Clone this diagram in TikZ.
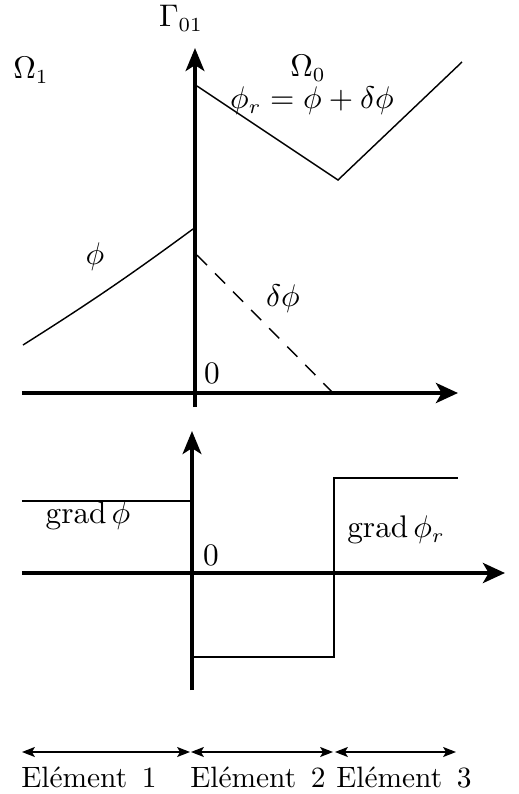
\documentclass[tikz,border=0pt]{standalone}
\usetikzlibrary{arrows.meta}
\begin{document}
\begin{tikzpicture}[x=0.35pt,y=-0.35pt,
  axis/.style={line width=1.6pt,-{Stealth[length=7.7pt,width=7pt,inset=2pt]}},
  axisv/.style={line width=1.6pt,-{Stealth[length=8pt,width=6.5pt,inset=2pt]}},
  curve/.style={line width=0.5pt},
  dimarrow/.style={line width=0.45pt,{Stealth[length=4.5pt,width=3.5pt,inset=1pt]}-{Stealth[length=4.5pt,width=3.5pt,inset=1pt]}},
  lbl/.style={inner sep=0pt,font=\fontsize{10.5}{12}\selectfont},
  elbl/.style={inner sep=0pt,anchor=base,font=\fontsize{10.3}{12}\selectfont}]
\useasboundingbox (0,0) rectangle (518,794);
% ---------- top graph ----------
\coordinate (tx0) at (22,393);
\coordinate (tx1) at (458,393);
\coordinate (ty0) at (195,407);
\coordinate (ty1) at (195,48);
\draw[axis] (tx0) -- (tx1);
\draw[axisv] (ty0) -- (ty1);
\coordinate (r0) at (197,86);
\coordinate (r1) at (338,180);
\coordinate (r2) at (462,62);
\draw[curve] (r0) -- (r1) -- (r2);
\coordinate (p0) at (23,345);
\coordinate (p1) at (193,229);
\draw[curve] (p0) to[bend right=2] (p1);
\coordinate (d0) at (197,255);
\coordinate (d1) at (333,393);
\draw[curve,dash pattern=on 5pt off 4pt] (d0) -- (d1);
\node[lbl] (gamma) at (181,18) {$\Gamma_{01}$};
\node[lbl] (om1) at (31,70) {$\Omega_1$};
\node[lbl] (om0) at (308,68) {$\Omega_0$};
\node[lbl] (phir) at (312,101) {$\phi_r=\phi+\delta\phi$};
\node[lbl] (phi) at (95,257) {$\phi$};
\node[lbl] (dphi) at (283,299) {$\delta\phi$};
\node[lbl] (zt) at (212,373) {$0$};
% ---------- bottom graph ----------
\coordinate (bx0) at (22,573);
\coordinate (bx1) at (505,573);
\coordinate (by0) at (192,690);
\coordinate (by1) at (192,431);
\draw[axis] (bx0) -- (bx1);
\draw[axisv] (by0) -- (by1);
\coordinate (g0) at (22,501);
\coordinate (g1) at (190,501);
\draw[curve] (g0) -- (g1);
\coordinate (s0) at (194,657);
\coordinate (s1) at (334,657);
\coordinate (s2) at (334,478);
\coordinate (s3) at (458,478);
\draw[curve] (s0) -- (s1) -- (s2) -- (s3);
\node[lbl] (gphi) at (88,516) {$\mathrm{grad}\,\phi$};
\node[lbl] (gphir) at (396,530) {$\mathrm{grad}\,\phi_r$};
\node[lbl] (zb) at (211,555) {$0$};
% ---------- element arrows ----------
\coordinate (e0) at (22,752);
\coordinate (e1) at (190,752);
\coordinate (e1b) at (191,752);
\coordinate (e2) at (333,752);
\coordinate (e2b) at (335,752);
\coordinate (e3) at (456,752);
\draw[dimarrow] (e0) -- (e1);
\draw[dimarrow] (e1b) -- (e2);
\draw[dimarrow] (e2b) -- (e3);
\node[elbl] (el1) at (89,787) {El\'ement\enspace 1};
\node[elbl] (el2) at (258,787) {El\'ement\enspace 2};
\node[elbl] (el3) at (404,787) {El\'ement\enspace 3};
\end{tikzpicture}
\end{document}
